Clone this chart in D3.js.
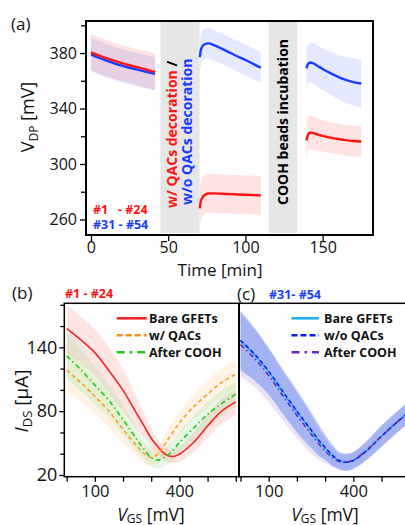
<!DOCTYPE html>
<html>
<head>
<meta charset="utf-8">
<script src="https://cdn.jsdelivr.net/npm/d3@7"></script>
<style>
body { margin: 0; background: #fff; }
text { font-family: "Open Sans", sans-serif; fill: #111; }
</style>
</head>
<body>
<div id="chart"></div>
<script>
// ---------- panel (a): Dirac point vs time ----------
const incubationSpans = [[45, 70.3], [115, 133.5]];

const seg1Time = [0, 5, 10, 15, 20, 25, 30, 35, 41.5];
const seg1Red = [380.5, 378.3, 376.3, 374.5, 372.8, 371.2, 369.8, 368.4, 366.4];
const seg1Blue = [379, 376.6, 374.5, 372.6, 370.9, 369.4, 368, 366.7, 365];
const seg1RedSd = [13, 13, 13, 13, 13, 13, 13, 13, 13];
const seg1BlueSd = [12, 12, 12, 12, 12, 12, 12, 12, 12];

const seg2Time = [70.5, 71, 72, 73.5, 76, 80, 85, 90, 95, 100, 105, 110];
const seg2Red = [268, 272.5, 275.5, 277.5, 278.7, 278.8, 278.5, 278.3, 278, 277.8, 277.6, 277.4];
const seg2Blue = [377, 381.5, 384.5, 386.3, 387, 385.5, 383, 380.2, 377.5, 375, 372.2, 369.4];
const seg2RedSd = [14, 14, 14, 14, 14, 14, 14, 14, 14, 14, 14, 14];
const seg2BlueSd = [11, 11, 11, 11, 11, 11, 11, 11, 11, 11, 11, 11];

const seg3Time = [139.5, 140.5, 142, 144, 147, 150, 155, 160, 165, 170, 175];
const seg3Red = [317, 321, 322.7, 322.2, 321.2, 320.3, 319, 318, 317.2, 316.6, 316.2];
const seg3Blue = [369, 372, 373.2, 372.5, 370.5, 368.5, 365.5, 362.8, 360.6, 359, 358];
const seg3RedSd = [12, 12, 12, 12, 11.5, 11.5, 11, 11, 11, 11, 11];
const seg3BlueSd = [14, 14, 14, 14.5, 15, 15, 15.5, 16, 16.5, 17, 17];

const timeTicks = [0, 50, 100, 150];
const vdpMajorTicks = [260, 300, 340, 380];
const vdpMinorTicks = [280, 320, 360, 400];

// ---------- panels (b), (c): transfer curves ----------
const vgs = [0, 50, 100, 150, 200, 250, 275, 300, 325, 350, 375, 400, 450, 500, 550, 600];

const bareB = [157.5, 147, 135, 118, 99.5, 77, 66, 54.5, 46, 39.5, 37.3, 39.5, 50.5, 66, 80, 88.6];
const qacB = [118.5, 107, 94, 80, 63, 47, 40, 36.5, 40, 49.5, 59.5, 69, 84, 96, 107, 114.8];
const coohB = [132, 119, 104.5, 90, 72, 53, 44, 36.5, 34, 37, 42.5, 50.5, 64, 77, 87, 96];
const bareBSd = [22, 22, 22, 22, 20, 15, 12, 9, 7, 6, 6, 7, 9, 11, 12, 12];
const qacBSd = [20, 18, 16, 15, 13, 10, 9, 8, 8, 9, 10, 11, 12, 13, 13, 13];
const coohBSd = [22, 20, 18, 16, 14, 11, 9, 8, 8, 8, 9, 10, 11, 12, 12, 12];

const bareC = [146, 133, 117, 98, 79.5, 62, 53, 45.5, 38.5, 33.5, 32, 33.5, 43.5, 56.5, 68.5, 80];
const noQacC = [146.5, 133.5, 117.5, 98.5, 80, 62.5, 53.5, 46, 38.8, 33.7, 32, 33.5, 43.5, 56.5, 68.5, 80];
const coohC = [142.5, 129.5, 113.5, 94.5, 76, 58.5, 50, 42.5, 36.5, 32.5, 32, 34, 44, 56.5, 68.5, 80];
const bareCSd = [26, 23, 21, 20, 18, 15, 13, 11, 9, 7, 7, 7, 8, 9, 9, 9];
const noQacCSd = [28, 25, 22, 21, 20, 17, 15, 12, 10, 8, 8, 8, 9, 10, 10, 10];
const coohCSd = [30, 27, 25, 23, 21, 18, 15, 12, 9, 8, 8, 8, 9, 10, 10, 10];

const idsMajorTicks = [20, 80, 140];
const idsMinorTicks = [40, 60, 100, 120, 160, 180];
const vgsTicks = [0, 100, 200, 300, 400, 500, 600];
const vgsLabels = [100, 400];

const legendB = ["Bare GFETs", "w/ QACs", "After COOH"];
const legendC = ["Bare GFETs", "w/o QACs", "After COOH"];

// ---------------------------------------------------------
const svg = d3.select("#chart").append("svg")
    .attr("width", 405)
    .attr("height", 525);

function styleAxis(g) {
    g.select(".domain").remove();
    g.selectAll(".tick line").attr("stroke", "#000").attr("stroke-width", 1.3);
    g.selectAll(".tick text").style("font-family", "'Open Sans', sans-serif").attr("fill", "#111");
}

// ===== panel (a) =====
const xA = d3.scaleLinear().domain([-3.2, 182.6]).range([86, 373]);
const yA = d3.scaleLinear().domain([248.8, 403.1]).range([235, 21]);

const panelA = svg.append("g");

panelA.selectAll("rect.block")
    .data(incubationSpans)
    .enter()
    .append("rect")
    .attr("x", d => xA(d[0]))
    .attr("width", d => xA(d[1]) - xA(d[0]))
    .attr("y", 21)
    .attr("height", 212)
    .attr("fill", "#e6e6e6");

const segments = [
    {t: seg1Time, red: seg1Red, redSd: seg1RedSd, blue: seg1Blue, blueSd: seg1BlueSd},
    {t: seg2Time, red: seg2Red, redSd: seg2RedSd, blue: seg2Blue, blueSd: seg2BlueSd},
    {t: seg3Time, red: seg3Red, redSd: seg3RedSd, blue: seg3Blue, blueSd: seg3BlueSd}
];

function traceA(times, vals, sds, color, bandOpacity) {
    const pts = times.map((t, i) => ({t: t, v: vals[i], s: sds[i]}));
    panelA.append("path")
        .datum(pts)
        .attr("fill", color)
        .attr("fill-opacity", bandOpacity)
        .attr("d", d3.area().curve(d3.curveMonotoneX)
            .x(d => xA(d.t)).y0(d => yA(d.v - d.s)).y1(d => yA(d.v + d.s)));
    return pts;
}

segments.forEach(s => {
    s.redPts = traceA(s.t, s.red, s.redSd, "#ff1a1a", 0.12);
    s.bluePts = traceA(s.t, s.blue, s.blueSd, "#2a4bff", 0.12);
});
segments.forEach(s => {
    const line = d3.line().curve(d3.curveMonotoneX).x(d => xA(d.t)).y(d => yA(d.v));
    panelA.append("path").datum(s.bluePts).attr("fill", "none")
        .attr("stroke", "#1a3cff").attr("stroke-width", 2.4).attr("d", line);
    panelA.append("path").datum(s.redPts).attr("fill", "none")
        .attr("stroke", "#ff1414").attr("stroke-width", 2.4).attr("d", line);
});

panelA.append("rect")
    .attr("x", 86).attr("y", 21).attr("width", 287).attr("height", 214)
    .attr("fill", "none").attr("stroke", "#000").attr("stroke-width", 2);

// axes (a)
panelA.append("g")
    .attr("transform", "translate(0,235)")
    .call(d3.axisBottom(xA).tickValues(timeTicks).tickSize(6).tickPadding(1))
    .call(styleAxis)
    .selectAll("text").style("font-size", "16px");

panelA.append("g")
    .attr("transform", "translate(86,0)")
    .call(d3.axisLeft(yA).tickValues(vdpMajorTicks).tickSize(6).tickPadding(3))
    .call(styleAxis)
    .selectAll("text").style("font-size", "16px");

panelA.append("g")
    .attr("transform", "translate(86,0)")
    .call(d3.axisLeft(yA).tickValues(vdpMinorTicks).tickSize(5).tickFormat(""))
    .call(styleAxis);

panelA.append("text").attr("x", 11).attr("y", 30).style("font-size", "17px").text("(a)");

panelA.append("text")
    .attr("x", 220).attr("y", 276)
    .attr("text-anchor", "middle")
    .style("font-size", "17px")
    .text("Time [min]");

const vdpLabel = panelA.append("text")
    .attr("transform", "translate(34,117) rotate(-90)")
    .attr("text-anchor", "middle")
    .style("font-size", "18px");
vdpLabel.append("tspan").text("V");
vdpLabel.append("tspan").attr("dy", 4).style("font-size", "12px").text("DP");
vdpLabel.append("tspan").attr("dy", -4).text(" [mV]");

// rotated notes in grey blocks
const noteRed = panelA.append("text")
    .attr("transform", "translate(176.5,208) rotate(-90)")
    .style("font-size", "14px").style("font-weight", "bold");
noteRed.append("tspan").style("fill", "#ff1414").text("w/ QACs decoration ");
noteRed.append("tspan").style("fill", "#000").text("/");

panelA.append("text")
    .attr("transform", "translate(192,205) rotate(-90)")
    .style("font-size", "14px").style("font-weight", "bold")
    .style("fill", "#1a3cff")
    .text("w/o QACs decoration");

panelA.append("text")
    .attr("transform", "translate(288.3,205) rotate(-90)")
    .style("font-size", "14px").style("font-weight", "bold")
    .style("fill", "#000")
    .text("COOH beads incubation");

panelA.append("text").attr("x", 93).attr("y", 213.5)
    .style("font-size", "12.5px").style("font-weight", "bold").style("fill", "#ff1414")
    .attr("xml:space", "preserve").text("#1   - #24");
panelA.append("text").attr("x", 93).attr("y", 229)
    .style("font-size", "12.5px").style("font-weight", "bold").style("fill", "#1a3cff")
    .text("#31 - #54");

// ===== panels (b) and (c) =====
const yB = d3.scaleLinear().domain([18.4, 181.4]).range([476.7, 303.3]);
const xB = d3.scaleLinear().domain([-8.5, 611.6]).range([64.3, 239]);
const xC = d3.scaleLinear().domain([-5.3, 614]).range([239, 413.7]);

svg.append("defs").append("clipPath").attr("id", "clipC")
    .append("rect").attr("x", 239).attr("y", 303.3).attr("width", 175).attr("height", 173.4);

function transferPanel(g, xs, curves) {
    curves.forEach(c => {
        const pts = vgs.map((v, i) => ({v: v, i: c.vals[i], s: c.sd[i]}));
        g.append("path").datum(pts)
            .attr("fill", c.band).attr("fill-opacity", c.bandOpacity)
            .attr("d", d3.area().curve(d3.curveCatmullRom)
                .x(d => xs(d.v)).y0(d => yB(d.i - d.s)).y1(d => yB(d.i + d.s)));
        c.pts = pts;
    });
    curves.forEach(c => {
        g.append("path").datum(c.pts)
            .attr("fill", "none").attr("stroke", c.color).attr("stroke-width", 1.6)
            .attr("stroke-dasharray", c.dash)
            .attr("d", d3.line().curve(d3.curveCatmullRom).x(d => xs(d.v)).y(d => yB(d.i)));
    });
}

const panelB = svg.append("g");
transferPanel(panelB, xB, [
    {vals: bareB, sd: bareBSd, color: "#f02828", band: "#ff3030", bandOpacity: 0.13, dash: null},
    {vals: qacB, sd: qacBSd, color: "#f5a020", band: "#ffa030", bandOpacity: 0.12, dash: "4,3"},
    {vals: coohB, sd: coohBSd, color: "#1ec81e", band: "#30d030", bandOpacity: 0.12, dash: "5,3,1.5,3"}
]);

const panelC = svg.append("g").attr("clip-path", "url(#clipC)");
transferPanel(panelC, xC, [
    {vals: coohC, sd: coohCSd, color: "#6a2db5", band: "#a080e0", bandOpacity: 0.22, dash: "5,3,1.5,3"},
    {vals: bareC, sd: bareCSd, color: "#20b0f0", band: "#40c0f8", bandOpacity: 0.1, dash: null},
    {vals: noQacC, sd: noQacCSd, color: "#0a1cff", band: "#3a5ae8", bandOpacity: 0.33, dash: "4,3"}
]);
// purple dash-dot line sits on top of the blue pair
panelC.selectAll("path").filter((d, i) => i === 3).raise();

// frames
svg.append("rect").attr("x", 64.3).attr("y", 303.3).attr("width", 174.7).attr("height", 173.4)
    .attr("fill", "none").attr("stroke", "#000").attr("stroke-width", 1.5);
svg.append("rect").attr("x", 239).attr("y", 303.3).attr("width", 180).attr("height", 173.4)
    .attr("fill", "none").attr("stroke", "#000").attr("stroke-width", 1.5);
svg.append("line").attr("x1", 239).attr("x2", 239).attr("y1", 303.3).attr("y2", 476.7)
    .attr("stroke", "#000").attr("stroke-width", 2);

// axes (b)
const fmtVgs = d => vgsLabels.includes(d) ? d : "";
svg.append("g").attr("transform", "translate(0,476.7)")
    .call(d3.axisBottom(xB).tickValues(vgsTicks).tickSize(5).tickPadding(4).tickFormat(fmtVgs))
    .call(styleAxis)
    .selectAll("text").style("font-size", "16.5px");
svg.append("g").attr("transform", "translate(0,476.7)")
    .call(d3.axisBottom(xC).tickValues(vgsTicks.filter(v => xC(v) < 405)).tickSize(5).tickPadding(4).tickFormat(fmtVgs))
    .call(styleAxis)
    .selectAll("text").style("font-size", "16.5px");

svg.append("g").attr("transform", "translate(64.3,0)")
    .call(d3.axisLeft(yB).tickValues(idsMajorTicks).tickSize(5).tickPadding(2))
    .call(styleAxis)
    .selectAll("text").style("font-size", "18px");
svg.append("g").attr("transform", "translate(64.3,0)")
    .call(d3.axisLeft(yB).tickValues(idsMinorTicks).tickSize(4).tickFormat(""))
    .call(styleAxis);

// axis titles (b), (c)
[151, 325].forEach(cx => {
    const t = svg.append("text").attr("x", cx).attr("y", 520.5)
        .attr("text-anchor", "middle").style("font-size", "17.5px");
    t.append("tspan").style("font-style", "italic").text("V");
    t.append("tspan").attr("dy", 2).style("font-size", "12px").text("GS");
    t.append("tspan").attr("dy", -2).text(" [mV]");
});

const idsLabel = svg.append("text")
    .attr("transform", "translate(28,401) rotate(-90)")
    .attr("text-anchor", "middle")
    .style("font-size", "19px");
idsLabel.append("tspan").style("font-style", "italic").text("I");
idsLabel.append("tspan").attr("dy", 4).style("font-size", "13px").text("DS");
idsLabel.append("tspan").attr("dy", -4).text(" [\u00b5A]");

svg.append("text").attr("x", 12).attr("y", 299).style("font-size", "17px").text("(b)");
svg.append("text").attr("x", 65).attr("y", 298)
    .style("font-size", "12.5px").style("font-weight", "bold").style("fill", "#ff1414")
    .text("#1 - #24");
svg.append("text").attr("x", 237).attr("y", 300).style("font-size", "17px").text("(c)");
svg.append("text").attr("x", 269).attr("y", 298.5)
    .style("font-size", "12.5px").style("font-weight", "bold").style("fill", "#1a3cff")
    .text("#31- #54");

// legends
function legend(x0, x1, tx, rows, styles) {
    rows.forEach((label, i) => {
        const y = 318.3 + i * 17;
        svg.append("line").attr("x1", x0).attr("x2", x1).attr("y1", y).attr("y2", y)
            .attr("stroke", styles[i].color).attr("stroke-width", 2.6)
            .attr("stroke-dasharray", styles[i].dash);
        svg.append("text").attr("x", tx).attr("y", y + 4.5)
            .style("font-size", "12.5px").style("font-weight", "bold")
            .text(label);
    });
}
legend(116.7, 146.7, 149, legendB, [
    {color: "#f02828", dash: null},
    {color: "#ff8c1a", dash: "6,3"},
    {color: "#1ec81e", dash: "8,5,2.5,5"}
]);
legend(291.5, 319, 324, legendC, [
    {color: "#20b0f0", dash: null},
    {color: "#0a1cff", dash: "6,3"},
    {color: "#6a2db5", dash: "8,5,2.5,5"}
]);
</script>
</body>
</html>
